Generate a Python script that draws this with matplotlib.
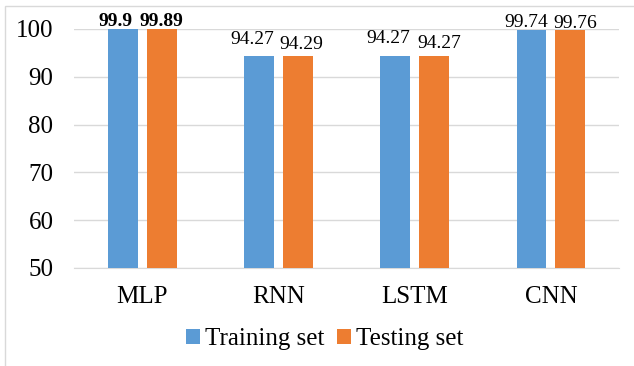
import numpy as np
import matplotlib.pyplot as plt
from matplotlib.patches import Rectangle

plt.rcParams['font.family'] = ['Liberation Serif', 'DejaVu Serif']

models = ['MLP', 'RNN', 'LSTM', 'CNN']
train_acc = [99.9, 94.27, 94.27, 99.74]
test_acc = [99.89, 94.29, 94.27, 99.76]
train_lbl = ['99.9', '94.27', '94.27', '99.74']
test_lbl = ['99.89', '94.29', '94.27', '99.76']
bold_group = 'MLP'

# label nudges (pixels) as placed in the original chart: (dx, gap above bar)
train_nudge = [(-7.5, 3), (-7, 12), (-7, 13), (-5, 3)]
test_nudge = [(0, 3), (3, 7), (5, 8), (5, 2)]

blue = '#5B9BD5'
orange = '#ED7D31'

fig = plt.figure(figsize=(6.34, 3.66), dpi=100)
ax = fig.add_axes([74.3 / 634, 0.268, (619 - 74.3) / 634, 0.653])

# light frame around the chart
fig.patches.append(Rectangle((5 / 634, -0.1), 1.2, 1 - 6 / 366 + 0.1,
                             transform=fig.transFigure, fill=False,
                             edgecolor='#D9D9D9', linewidth=1))

x = np.arange(len(models))
w = 0.22
gap = 0.065
b1 = ax.bar(x - (w + gap) / 2, np.array(train_acc) - 50, w, bottom=50,
            color=blue, label='Training set', zorder=3)
b2 = ax.bar(x + (w + gap) / 2, np.array(test_acc) - 50, w, bottom=50,
            color=orange, label='Testing set', zorder=3)

px = 72 / fig.dpi
for bars, labels, nudges in [(b1, train_lbl, train_nudge), (b2, test_lbl, test_nudge)]:
    for rect, lab, m, (dx, dy) in zip(bars, labels, models, nudges):
        top = rect.get_y() + rect.get_height()
        ax.annotate(lab, (rect.get_x() + rect.get_width() / 2, top),
                    xytext=(dx * px, dy * px), textcoords='offset points',
                    ha='center', va='baseline', fontsize=14,
                    fontweight='bold' if m == bold_group else 'normal',
                    annotation_clip=False)

ax.set_xlim(-0.5, len(models) - 0.5)
ax.set_ylim(50, 100)
ax.set_yticks(np.arange(50, 101, 10))
ax.set_xticks(x)
ax.set_xticklabels(models)
ax.tick_params(axis='both', length=0, labelsize=18)
ax.tick_params(axis='y', pad=15)
ax.tick_params(axis='x', pad=13)
ax.yaxis.grid(True, color='#D9D9D9', linewidth=1, zorder=0)
for s in ['top', 'right', 'left']:
    ax.spines[s].set_visible(False)
ax.spines['bottom'].set_color('#D9D9D9')

ax.legend(loc='center', bbox_to_anchor=(325 / 634, 1 - 339 / 366),
          bbox_transform=fig.transFigure, frameon=False, ncol=2, fontsize=18,
          handlelength=0.56, handleheight=0.56, handletextpad=0.2,
          columnspacing=0.5, borderpad=0)

fig.savefig('out.png', dpi=100)
